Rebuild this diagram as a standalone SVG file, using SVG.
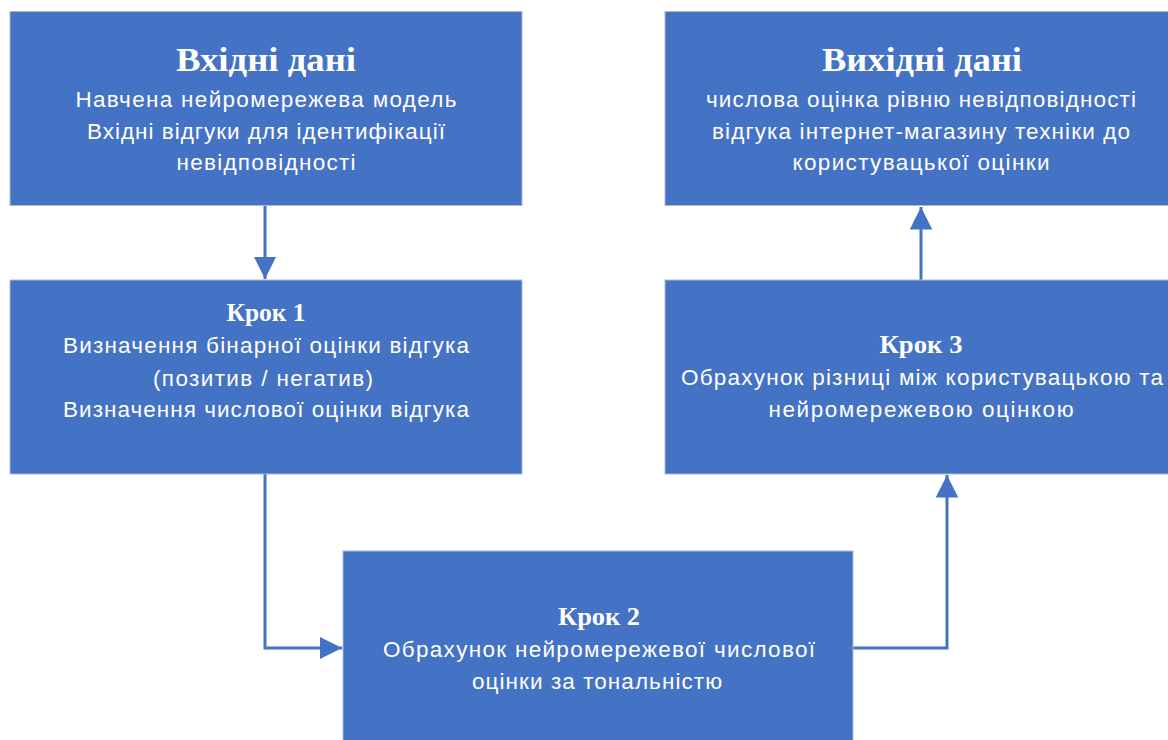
<svg xmlns="http://www.w3.org/2000/svg" width="1168" height="740" viewBox="0 0 1168 740">
<defs>
<style>
.box{fill:#4472C4;stroke:#a9b8dc;stroke-width:1}
.t{font-family:"Liberation Serif","Times New Roman",serif;font-weight:bold;fill:#fff;text-anchor:middle}
.s{font-family:"Liberation Sans",Arial,sans-serif;font-size:22.5px;fill:#fff;text-anchor:middle}
.c{fill:none;stroke:#4472C4;stroke-width:3}
</style>
<marker id="ah" viewBox="0 0 10 10" refX="10" refY="5" markerWidth="7.5" markerHeight="7.5" markerUnits="strokeWidth" orient="auto">
<path d="M0,0 L10,5 L0,10 Z" fill="#4472C4"/>
</marker>
</defs>
<rect width="1168" height="740" fill="#fff"/>
<g id="connectors">
<path class="c" d="M265,206 V279" marker-end="url(#ah)"/>
<path class="c" d="M265,474 V648 H342" marker-end="url(#ah)"/>
<path class="c" d="M853,648 H947 V475" marker-end="url(#ah)"/>
<path class="c" d="M921,280 V207" marker-end="url(#ah)"/>
</g>
<g id="input">
<rect class="box" x="10" y="11.5" width="512" height="194"/>
<text class="t" x="266" y="71" font-size="33" textLength="180" lengthAdjust="spacingAndGlyphs">Вхідні дані</text>
<text class="s" x="266" y="107" textLength="381">Навчена нейромережева модель</text>
<text class="s" x="266" y="139" textLength="358">Вхідні відгуки для ідентифікації</text>
<text class="s" x="266" y="170" textLength="179">невідповідності</text>
</g>
<g id="output">
<rect class="box" x="665" y="11.5" width="514" height="194"/>
<text class="t" x="922" y="71" font-size="33" textLength="200" lengthAdjust="spacingAndGlyphs">Вихідні дані</text>
<text class="s" x="921" y="107" textLength="430">числова оцінка рівню невідповідності</text>
<text class="s" x="921" y="139" textLength="418">відгука інтернет-магазину техніки до</text>
<text class="s" x="921" y="170" textLength="257">користувацької оцінки</text>
</g>
<g id="step1">
<rect class="box" x="10" y="280" width="512" height="194"/>
<text class="t" x="266" y="321" font-size="25" textLength="79" lengthAdjust="spacingAndGlyphs">Крок 1</text>
<text class="s" x="266" y="353" textLength="406">Визначення бінарної оцінки відгука</text>
<text class="s" x="263" y="386" textLength="220">(позитив / негатив)</text>
<text class="s" x="266" y="417" textLength="406">Визначення числової оцінки відгука</text>
</g>
<g id="step3">
<rect class="box" x="665" y="280" width="514" height="194"/>
<text class="t" x="921" y="353" font-size="25" textLength="83" lengthAdjust="spacingAndGlyphs">Крок 3</text>
<text class="s" x="922" y="385" textLength="482">Обрахунок різниці між користувацькою та</text>
<text class="s" x="921" y="417" textLength="305">нейромережевою оцінкою</text>
</g>
<g id="step2">
<rect class="box" x="343" y="551" width="510" height="200"/>
<text class="t" x="599" y="625" font-size="25" textLength="82" lengthAdjust="spacingAndGlyphs">Крок 2</text>
<text class="s" x="599" y="657" textLength="432">Обрахунок нейромережевої числової</text>
<text class="s" x="597" y="689" textLength="250">оцінки за тональністю</text>
</g>
</svg>
